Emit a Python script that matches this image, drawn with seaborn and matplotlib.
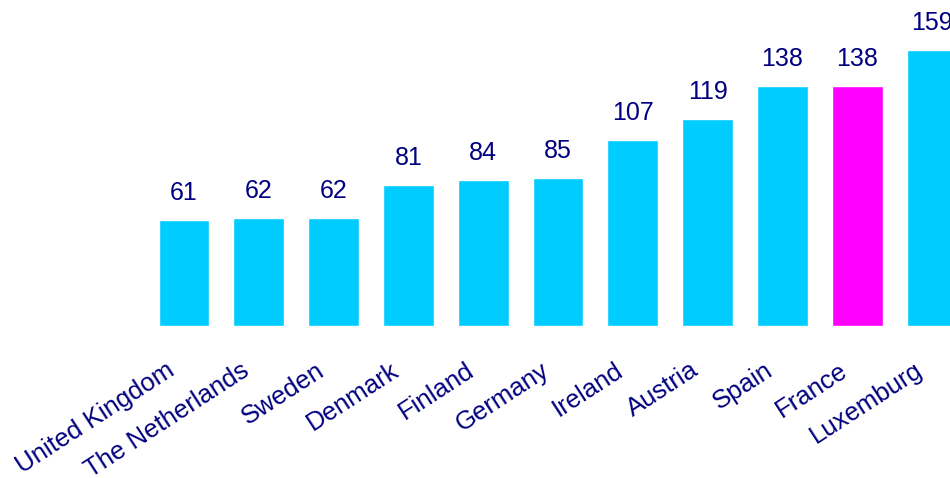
import matplotlib
matplotlib.use("Agg")
import matplotlib.pyplot as plt
import seaborn as sns
import pandas as pd

countries = ["United Kingdom", "The Netherlands", "Sweden", "Denmark", "Finland",
             "Germany", "Ireland", "Austria", "Spain", "France", "Luxemburg"]
values = [61, 62, 62, 81, 84, 85, 107, 119, 138, 138, 159]
highlight = ["no"] * 9 + ["yes", "no"]

CYAN = "#00CCFF"
MAGENTA = "#FF00FF"
NAVY = "#000080"

df = pd.DataFrame({"country": countries, "value": values, "hl": highlight})

sns.set_theme(style="white")
plt.rcParams["font.family"] = ["Liberation Sans", "DejaVu Sans"]

fig = plt.figure(figsize=(9.5, 4.78), dpi=100)
ax = fig.add_axes([0, 0.318, 1, 0.682])
sns.barplot(data=df, x="country", y="value", hue="hl",
            palette={"no": CYAN, "yes": MAGENTA}, width=0.68,
            dodge=False, legend=False, ax=ax, saturation=1)

ax.set_xlim(-2.46, 10.24)
ax.set_ylim(0, 187.8)
for c in ax.containers:
    labels = [f"{v:.0f}" if v == v and v > 0 else "" for v in c.datavalues]
    ax.bar_label(c, labels=labels, padding=11, fontsize=18, color=NAVY)

ax.set_xticks([])
ax.set_yticks([])
ax.set_xlabel("")
ax.set_ylabel("")
for s in ax.spines.values():
    s.set_visible(False)

for i, name in enumerate(countries):
    ax.annotate(name, xy=(i, 0), xycoords="data", xytext=(-13, -23),
                textcoords="offset points", ha="right", va="top",
                rotation=33, rotation_mode="anchor", fontsize=18.5,
                color=NAVY, annotation_clip=False)

fig.savefig("out.png", dpi=100)
